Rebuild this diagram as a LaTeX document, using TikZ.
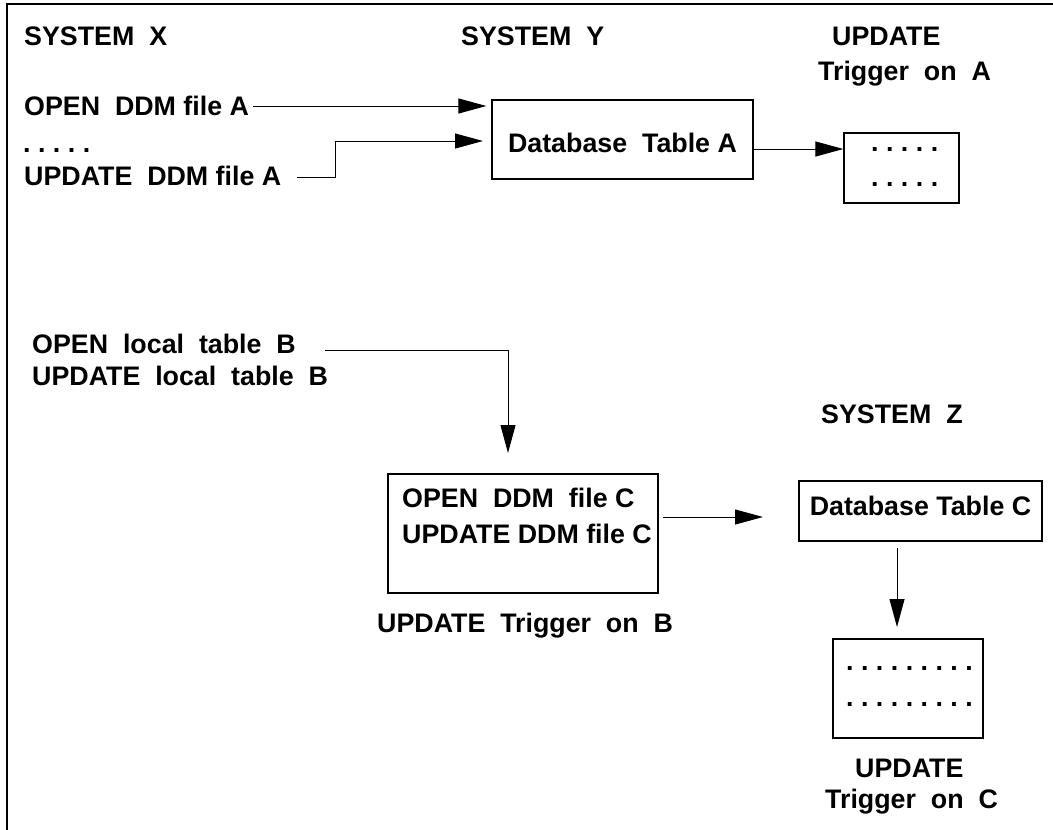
\documentclass[tikz,border=0pt]{standalone}
\usepackage{fontspec}
\setmainfont{Liberation Sans}
\usetikzlibrary{arrows.meta}
\begin{document}
\begin{tikzpicture}[x=1pt,y=-1pt,
  txt/.style={anchor=base west,inner sep=0pt,font=\fontsize{26.8}{31}\selectfont\bfseries\frenchspacing},
  box/.style={draw,line width=1.3pt,inner sep=0pt,font=\fontsize{26.8}{31}\selectfont\bfseries\frenchspacing},
  arr/.style={line width=1pt,-{Triangle[length=28pt,width=15pt]}},
  frameline/.style={line width=1.5pt}]
\useasboundingbox (0,0) rectangle (1053,830);
\draw[frameline] (7,830) -- (7,4) -- (1053,4);

% boxes
\node[box,minimum width=261pt,minimum height=79pt,text height=25pt,text depth=0pt] (A) at (622.5,139.5) {Database~~Table A};
\node[box,minimum width=115pt,minimum height=70pt] (TA) at (901.5,168) {};
\node[box,minimum width=270pt,minimum height=119pt] (B) at (523,533.5) {};
\node[box,minimum width=243pt,minimum height=60pt,text height=19pt,text depth=11pt] (C) at (920.5,511) {Database Table C};
\node[box,minimum width=150pt,minimum height=99pt] (TC) at (908,688.5) {};

% labels
\node[txt] (sx) at (24,45) {SYSTEM~~X};
\node[txt] (sy) at (461,45) {SYSTEM~~Y};
\node[txt] (upa) at (832,45) {UPDATE};
\node[txt] (tga) at (818,80) {Trigger~~on~~A};
\node[txt] (oa) at (24,115) {OPEN~~DDM file A};
\node[txt] (dx) at (23,152) {. . . . .};
\node[txt] (ua) at (24,185) {UPDATE~~DDM file A};
\node[txt] (da1) at (871,151) {. . . . .};
\node[txt] (da2) at (871,186) {. . . . .};
\node[txt] (ob) at (32,353) {OPEN~~local~~table~~B};
\node[txt] (ub) at (32,385) {UPDATE~~local~~table~~B};
\node[txt] (oc) at (402,507) {OPEN~~DDM~~file C};
\node[txt] (uc) at (402,543) {UPDATE DDM file C};
\node[txt] (tgb) at (377,632) {UPDATE~~Trigger~~on~~B};
\node[txt] (sz) at (821,423) {SYSTEM~~Z};
\node[txt] (dc1) at (846,670) {. . . . . . . . .};
\node[txt] (dc2) at (846,706) {. . . . . . . . .};
\node[txt] (upc) at (855,777) {UPDATE};
\node[txt] (tgc) at (825,808) {Trigger~~on~~C};

% connectors
\coordinate (a1) at (253,106);
\coordinate (a2) at (483,141);
\coordinate (a3) at (297,177);
\coordinate (b0) at (325,350);
\coordinate (b1) at (508,453);
\coordinate (b2) at (763,517);
\coordinate (c1) at (897,627);
\draw[arr] (a1) -- ([xshift=-5pt]a1 -| A.west);
\draw[arr] (a3) -| ([xshift=-148pt]a2) -- (a2);
\draw[arr] ([yshift=-9.5pt]A.east) -- ([yshift=-9.5pt]A.east -| TA.west);
\draw[arr] (b0) -| (b1);
\draw[arr] ([xshift=4pt]B.east |- b2) -- (b2);
\draw[arr] ([yshift=-6pt]C.south -| c1) -- (c1);
\end{tikzpicture}
\end{document}
